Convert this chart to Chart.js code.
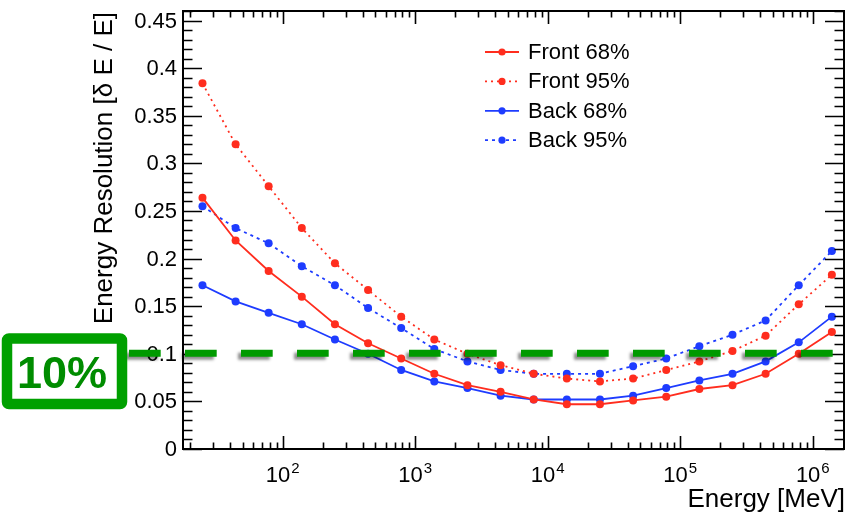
<!DOCTYPE html>
<html>
<head>
<meta charset="utf-8">
<script src="https://cdn.jsdelivr.net/npm/chart.js@4"></script>
<style>
html,body{margin:0;padding:0;background:#fff;}
canvas{display:block;}
</style>
</head>
<body>
<canvas id="c" width="848" height="516"></canvas>
<script>
// ---- data ----
const energies = [24.8, 44.1, 78.3, 139.3, 247.7, 440.6, 783.4, 1393, 2477, 4406,
                  7834, 13932, 24774, 44055, 78343, 139316, 247742, 440555, 783430, 1393157];
const front68 = [0.264, 0.219, 0.187, 0.160, 0.131, 0.111, 0.095, 0.079, 0.067, 0.060,
                 0.052, 0.047, 0.047, 0.051, 0.055, 0.063, 0.067, 0.079, 0.100, 0.123];
const front95 = [0.384, 0.320, 0.276, 0.232, 0.195, 0.167, 0.139, 0.115, 0.100, 0.088,
                 0.079, 0.074, 0.071, 0.074, 0.083, 0.092, 0.103, 0.119, 0.152, 0.183];
const back68  = [0.172, 0.155, 0.143, 0.131, 0.115, 0.100, 0.083, 0.071, 0.064, 0.056,
                 0.052, 0.052, 0.052, 0.056, 0.064, 0.072, 0.079, 0.092, 0.112, 0.139];
const back95  = [0.255, 0.232, 0.216, 0.192, 0.172, 0.148, 0.127, 0.105, 0.092, 0.083,
                 0.079, 0.079, 0.079, 0.087, 0.095, 0.108, 0.120, 0.135, 0.172, 0.208];
const seriesNames = ['Front 68%', 'Front 95%', 'Back 68%', 'Back 95%'];
const yTickLabels = ['0','0.05','0.1','0.15','0.2','0.25','0.3','0.35','0.4','0.45'];
const yTickValues = [0,0.05,0.1,0.15,0.2,0.25,0.3,0.35,0.4,0.45];
const xTickExponents = [2,3,4,5,6];
const thresholdValue = 0.1;
const thresholdLabel = '10%';
const xTitle = 'Energy [MeV]';
const yTitle = 'Energy Resolution [δ E / E]';

// ---- styles ----
const RED = '#ff2d1e', BLUE = '#1e3cff';
const FONT = '"Liberation Sans", Arial, Helvetica, sans-serif';
const styles = [
  {color: RED, dash: []},
  {color: RED, dash: [2, 4]},
  {color: BLUE, dash: []},
  {color: BLUE, dash: [3, 4]}
];
const seriesValues = [front68, front95, back68, back95];

const datasets = seriesValues.map((vals, si) => ({
  label: seriesNames[si],
  data: energies.map((e, i) => ({x: e, y: vals[i]})),
  borderColor: styles[si].color,
  backgroundColor: styles[si].color,
  borderDash: styles[si].dash,
  borderWidth: 1.8,
  pointRadius: 4,
  pointHoverRadius: 4,
  pointBorderWidth: 0,
  tension: 0,
  fill: false
}));

const decorPlugin = {
  id: 'decor',
  afterDraw(chart) {
    const ctx = chart.ctx;
    const xs = chart.scales.x, ys = chart.scales.y;
    const a = chart.chartArea;
    ctx.save();
    ctx.strokeStyle = '#000';
    ctx.fillStyle = '#000';
    // frame
    ctx.lineWidth = 2;
    ctx.strokeRect(a.left, a.top, a.right - a.left, a.bottom - a.top);
    // y ticks
    ctx.lineWidth = 1.6;
    ctx.beginPath();
    for (let k = 0; k <= 46; k++) {
      const v = k / 100;
      const py = Math.round(ys.getPixelForValue(v)) + 0.5;
      const len = (k % 5 === 0) ? 19 : 9.5;
      ctx.moveTo(a.left, py); ctx.lineTo(a.left + len, py);
      ctx.moveTo(a.right, py); ctx.lineTo(a.right - len, py);
    }
    // x ticks
    for (let d = 1; d <= 6; d++) {
      for (let m = 1; m <= 9; m++) {
        const v = m * Math.pow(10, d);
        if (v < xs.min || v > xs.max) continue;
        const px = Math.round(xs.getPixelForValue(v)) + 0.5;
        const len = (m === 1) ? 13 : 6.5;
        ctx.moveTo(px, a.bottom); ctx.lineTo(px, a.bottom - len);
        ctx.moveTo(px, a.top); ctx.lineTo(px, a.top + len);
      }
    }
    ctx.stroke();
    // y labels
    ctx.font = '22px ' + FONT;
    ctx.textAlign = 'right';
    ctx.textBaseline = 'middle';
    yTickValues.forEach((v, i) => {
      ctx.fillText(yTickLabels[i], 177, ys.getPixelForValue(v) + 1);
    });
    // x labels 10^n
    ctx.textBaseline = 'alphabetic';
    xTickExponents.forEach(n => {
      const px = xs.getPixelForValue(Math.pow(10, n));
      ctx.font = '22px ' + FONT;
      const wb = ctx.measureText('10').width;
      ctx.font = '15px ' + FONT;
      const we = ctx.measureText(String(n)).width;
      const start = px - (wb + 1 + we) / 2;
      ctx.textAlign = 'left';
      ctx.font = '22px ' + FONT;
      ctx.fillText('10', start, 482);
      ctx.font = '15px ' + FONT;
      ctx.fillText(String(n), start + wb + 1, 473);
    });
    // axis titles
    ctx.font = '26px ' + FONT;
    ctx.textAlign = 'right';
    ctx.textBaseline = 'alphabetic';
    ctx.fillText(xTitle, 845, 507);
    ctx.save();
    ctx.translate(112, 12);
    ctx.rotate(-Math.PI / 2);
    ctx.fillText(yTitle, 0, 0);
    ctx.restore();
    // legend
    ctx.font = '22px ' + FONT;
    ctx.textAlign = 'left';
    ctx.textBaseline = 'middle';
    datasets.forEach((ds, i) => {
      const ly = 52 + 29.4 * i;
      ctx.save();
      ctx.strokeStyle = ds.borderColor;
      ctx.lineWidth = 1.8;
      ctx.setLineDash(ds.borderDash);
      ctx.beginPath(); ctx.moveTo(485, ly); ctx.lineTo(519, ly); ctx.stroke();
      ctx.setLineDash([]);
      ctx.fillStyle = ds.backgroundColor;
      ctx.beginPath(); ctx.arc(502, ly, 3.6, 0, Math.PI * 2); ctx.fill();
      ctx.restore();
      ctx.fillStyle = '#000';
      ctx.fillText(ds.label, 528, ly + 1);
    });
    // green threshold dashed line
    const ty = ys.getPixelForValue(thresholdValue) - 0.5;
    ctx.save();
    ctx.strokeStyle = '#009a00';
    ctx.lineWidth = 7;
    ctx.setLineDash([31.7, 24.3]);
    ctx.shadowColor = 'rgba(0,0,0,0.45)';
    ctx.shadowOffsetX = -3;
    ctx.shadowOffsetY = 3;
    ctx.shadowBlur = 3;
    ctx.beginPath(); ctx.moveTo(129, ty); ctx.lineTo(833, ty); ctx.stroke();
    ctx.restore();
    // 10% box
    ctx.save();
    ctx.lineJoin = 'round';
    ctx.lineWidth = 10.5;
    ctx.strokeStyle = '#00a000';
    ctx.fillStyle = '#fff';
    ctx.beginPath();
    ctx.roundRect(7, 338.5, 115, 65.5, 2);
    ctx.fill();
    ctx.stroke();
    ctx.fillStyle = '#008c00';
    ctx.font = 'bold 45px ' + FONT;
    ctx.textAlign = 'center';
    ctx.textBaseline = 'alphabetic';
    ctx.fillText(thresholdLabel, 62, 388);
    ctx.restore();
    ctx.restore();
  }
};

new Chart(document.getElementById('c'), {
  type: 'line',
  data: {datasets},
  options: {
    responsive: false,
    devicePixelRatio: 1,
    animation: false,
    events: [],
    layout: {padding: {left: 183, right: 4, top: 11, bottom: 67}},
    plugins: {legend: {display: false}, tooltip: {enabled: false}},
    scales: {
      x: {type: 'logarithmic', min: 17.68, max: 1.72e6, display: false},
      y: {type: 'linear', min: 0, max: 0.46, display: false}
    }
  },
  plugins: [decorPlugin]
});
</script>
</body>
</html>
